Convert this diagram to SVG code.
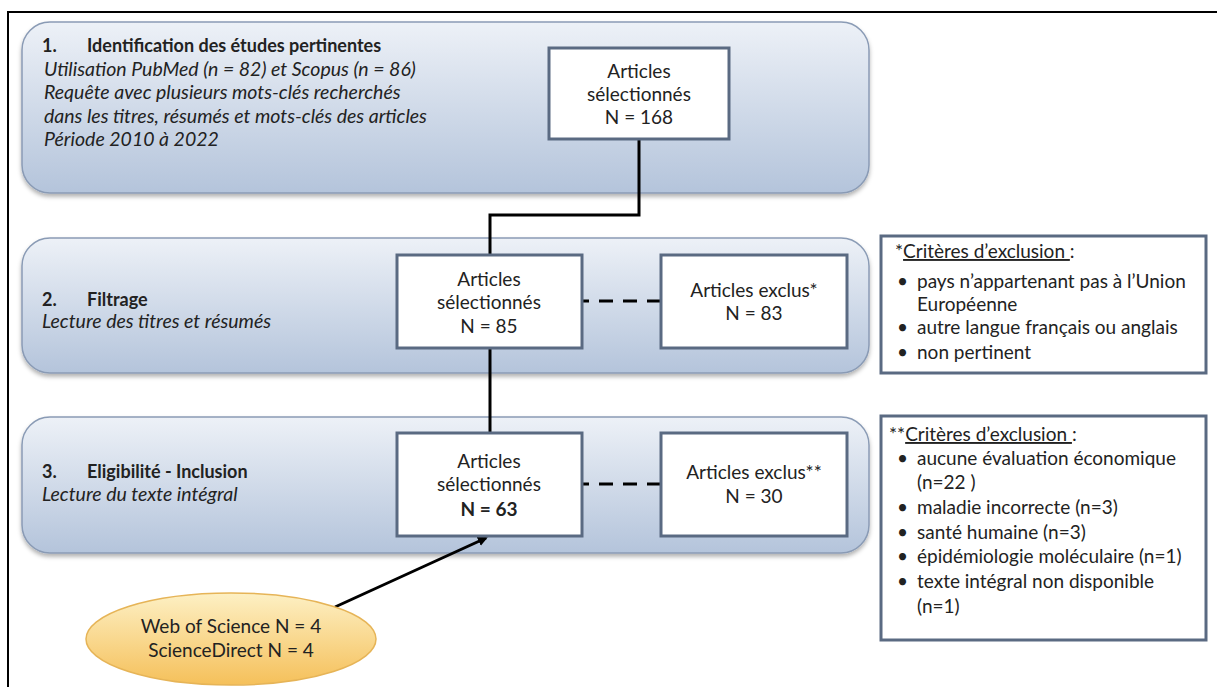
<svg xmlns="http://www.w3.org/2000/svg" width="1217" height="687" viewBox="0 0 1217 687">
<defs>
<linearGradient id="pg" x1="0" y1="0" x2="0" y2="1">
<stop offset="0" stop-color="#edf1f7"/>
<stop offset="1" stop-color="#b4c4db"/>
</linearGradient>
<linearGradient id="eg" x1="0" y1="0" x2="0" y2="1">
<stop offset="0" stop-color="#fdf0c4"/>
<stop offset="1" stop-color="#f5c05a"/>
</linearGradient>
<filter id="sh" x="-5%" y="-10%" width="110%" height="130%">
<feDropShadow dx="0" dy="3" stdDeviation="2" flood-color="#000" flood-opacity="0.3"/>
</filter>
<marker id="ah" markerWidth="10" markerHeight="10" refX="8" refY="5" orient="auto" markerUnits="userSpaceOnUse">
<path d="M0,0 L10,5 L0,10 z" fill="#000"/>
</marker>
</defs>
<style>
text{font-family:Lato,"Liberation Sans",sans-serif;font-size:19px;fill:#222}
.panel{fill:url(#pg);stroke:#8a9bb5;stroke-width:1.5;filter:url(#sh)}
.box{fill:#fff;stroke:#5a6a82;stroke-width:3}
.b{font-weight:bold}
.t{font-weight:bold;font-size:18px}
.i{font-style:italic;font-size:19.5px}
.c{text-anchor:middle}
.ln{stroke:#000;stroke-width:3;fill:none}
.dash{stroke:#000;stroke-width:3;stroke-dasharray:14 10;fill:none}
.u{text-decoration:underline}
</style>
<path d="M8,687 V12 H1217" fill="none" stroke="#000" stroke-width="2"/>

<g id="panel1">
<rect class="panel" x="22" y="22" width="847" height="171" rx="28"/>
<text x="42" y="52" class="t">1.</text>
<text x="87" y="52" class="t">Identification des études pertinentes</text>
<text x="44" y="76" class="i">Utilisation PubMed (n = 82) et Scopus (n = 86)</text>
<text x="44" y="99" class="i">Requête avec plusieurs mots-clés recherchés</text>
<text x="44" y="123" class="i">dans les titres, résumés et mots-clés des articles</text>
<text x="44" y="146" class="i">Période 2010 à 2022</text>
</g>
<g id="panel2">
<rect class="panel" x="22" y="238" width="847" height="135" rx="28"/>
<text x="42" y="306" class="t">2.</text>
<text x="87" y="306" class="t">Filtrage</text>
<text x="42" y="328" class="i">Lecture des titres et résumés</text>
</g>
<g id="panel3">
<rect class="panel" x="22" y="417" width="847" height="136" rx="28"/>
<text x="42" y="478" class="t">3.</text>
<text x="87" y="478" class="t">Eligibilité - Inclusion</text>
<text x="42" y="501" class="i">Lecture du texte intégral</text>
</g>

<g id="connectors">
<path class="ln" d="M639,139 V215 H490 V255"/>
<path class="ln" d="M490,348 V433"/>
<path class="dash" d="M661,301 H582"/>
<path class="dash" d="M661,484 H582"/>
<path class="ln" d="M335,607 L486,538" marker-end="url(#ah)"/>
</g>

<g id="box168">
<rect class="box" x="549" y="48" width="180" height="91"/>
<text x="639" y="78" class="c">Articles</text>
<text x="639" y="101" class="c">sélectionnés</text>
<text x="639" y="124" class="c">N = 168</text>
</g>
<g id="box85">
<rect class="box" x="397" y="255" width="185" height="93"/>
<text x="489" y="286" class="c">Articles</text>
<text x="489" y="309" class="c">sélectionnés</text>
<text x="489" y="333" class="c">N = 85</text>
</g>
<g id="boxExclus1">
<rect class="box" x="661" y="255" width="186" height="93"/>
<text x="754" y="297" class="c">Articles exclus*</text>
<text x="754" y="320" class="c">N = 83</text>
</g>
<g id="criteria1">
<rect class="box" x="881" y="236" width="325" height="137"/>
<text x="895" y="258">*<tspan class="u">Critères d’exclusion </tspan>:</text>
<text x="897" y="288">•</text><text x="917" y="288">pays n’appartenant pas à l’Union</text>
<text x="917" y="311">Européenne</text>
<text x="897" y="334">•</text><text x="917" y="334">autre langue français ou anglais</text>
<text x="897" y="359">•</text><text x="917" y="359">non pertinent</text>
</g>
<g id="box63">
<rect class="box" x="397" y="433" width="185" height="103"/>
<text x="489" y="468" class="c">Articles</text>
<text x="489" y="491" class="c">sélectionnés</text>
<text x="489" y="516" class="c b">N = 63</text>
</g>
<g id="boxExclus2">
<rect class="box" x="661" y="433" width="186" height="103"/>
<text x="754" y="479" class="c">Articles exclus**</text>
<text x="754" y="503" class="c">N = 30</text>
</g>
<g id="criteria2">
<rect class="box" x="881" y="416" width="325" height="224"/>
<text x="889" y="441">**<tspan class="u">Critères d’exclusion </tspan>:</text>
<text x="897" y="465">•</text><text x="917" y="465">aucune évaluation économique</text>
<text x="917" y="489">(n=22 )</text>
<text x="897" y="514">•</text><text x="917" y="514">maladie incorrecte (n=3)</text>
<text x="897" y="539">•</text><text x="917" y="539">santé humaine (n=3)</text>
<text x="897" y="563">•</text><text x="917" y="563">épidémiologie moléculaire (n=1)</text>
<text x="897" y="588">•</text><text x="917" y="588">texte intégral non disponible</text>
<text x="917" y="613">(n=1)</text>
</g>
<g id="sources">
<ellipse cx="231" cy="639" rx="145" ry="46" fill="url(#eg)" stroke="#e6b457" stroke-width="1.5"/>
<text x="231" y="633" class="c">Web of Science N = 4</text>
<text x="231" y="657" class="c">ScienceDirect N = 4</text>
</g>
</svg>
